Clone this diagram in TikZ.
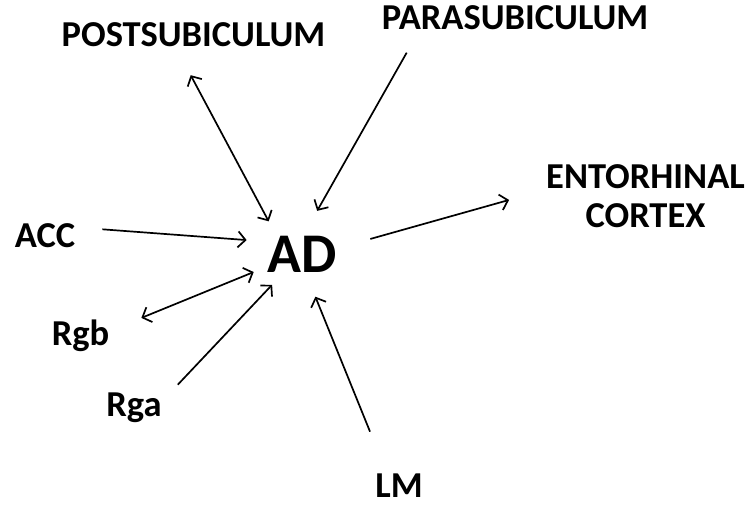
\documentclass[tikz,border=0pt]{standalone}
\usepackage{fontspec}
\setmainfont{Carlito}
\usetikzlibrary{arrows.meta}

\begin{document}
\begin{tikzpicture}[x=1pt,y=-1pt,>={Straight Barb[length=7.5pt,width=16pt]}]
      \tikzstyle{every node} = [inner sep=0pt, font=\bfseries\fontsize{36.5}{39}\selectfont]
      \tikzstyle{area} = [text height=23pt, text depth=0pt]
      \tikzstyle{hub} = [text height=35pt, text depth=0pt, font=\bfseries\fontsize{56}{60}\selectfont]
      \tikzstyle{link} = [line width=1.7pt, ->]
      \useasboundingbox (0,0) rectangle (751,506);
      \node[hub](AD) at (302.5,255){AD};
      \node[area](postsub) at (193.5,35){POSTSUBICULUM};
      \node[area](parasub) at (515,18){PARASUBICULUM};
      \node[align=center](entorhinal) at (645.5,196.5){ENTORHINAL\\CORTEX};
      \node[area](ACC) at (45,236){ACC};
      \node[area](Rgb) at (80.5,334){Rgb};
      \node[area](Rga) at (134,405){Rga};
      \node[area](LM) at (399,486){LM};
      % Connections
      \draw[link, <->, shorten <=32.3pt, shorten >=18.1pt]
      (postsub.213) -- (AD.145);
      \draw[link, shorten <=26.4pt, shorten >=30.4pt]
      (parasub.187) -- (AD.91);
      \draw[link, shorten <=34.3pt, shorten >=38.4pt]
      (AD.11) -- (entorhinal.176);
      \draw[link, shorten <=27.1pt, shorten >=21.1pt]
      (ACC.16) -- (AD.159);
      \draw[link, <->, shorten <=34.5pt, shorten >=15.1pt]
      (Rgb.6) -- (AD.198);
      \draw[link, shorten <=23.2pt, shorten >=16.6pt]
      (Rga.7) -- (AD.223);
      \draw[link, shorten <=46pt, shorten >=25.9pt]
      (LM.135) -- (AD.280);
\end{tikzpicture}
\end{document}
